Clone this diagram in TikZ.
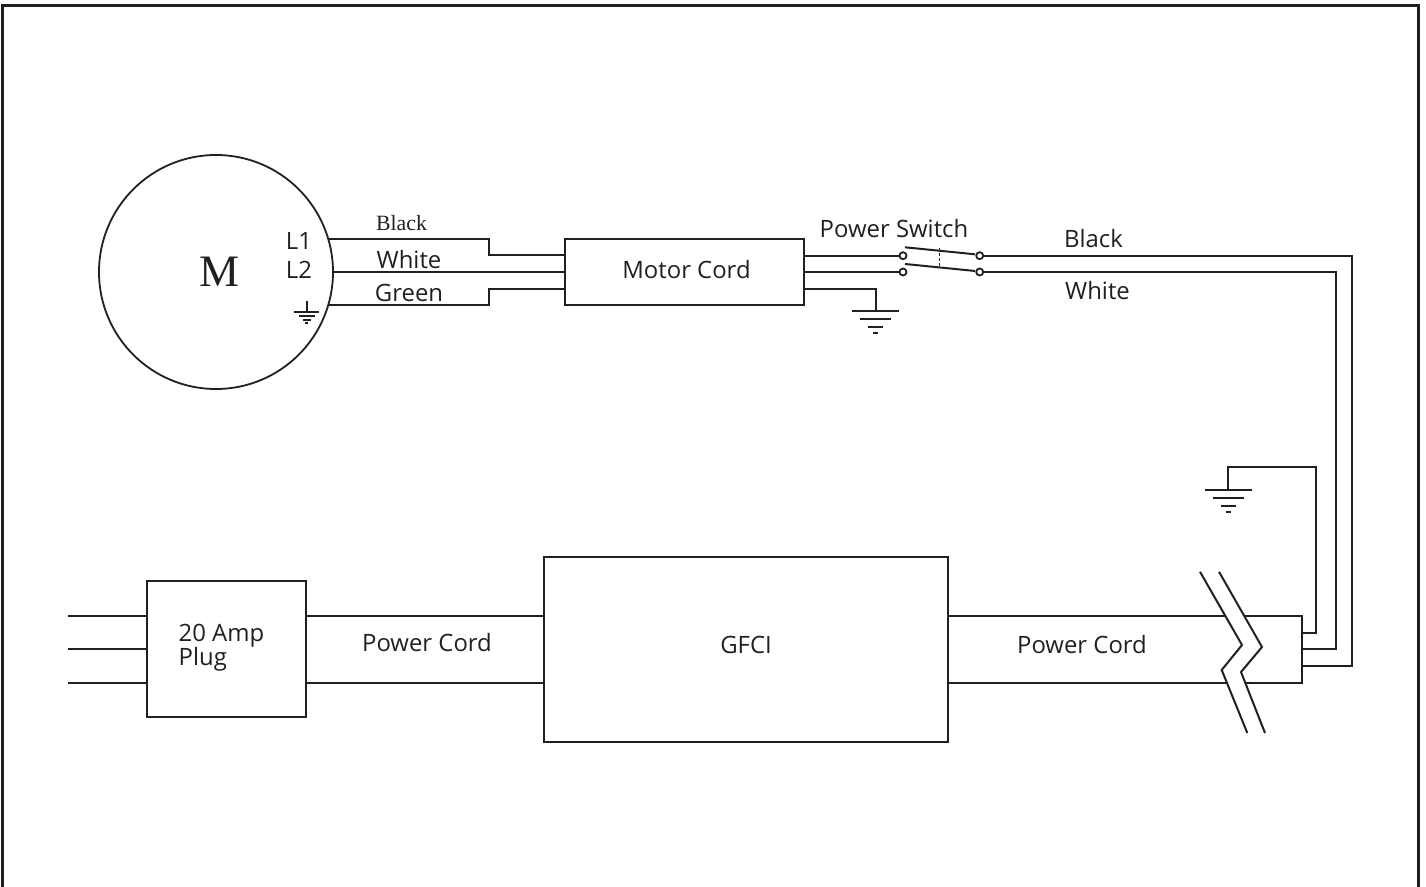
\documentclass[tikz,border=0pt]{standalone}
\usepackage{fontspec}
\setmainfont{Open Sans}
\newfontfamily\serifface{Liberation Serif}
\usetikzlibrary{calc}
\definecolor{ink}{HTML}{231F20}
\def\groundsym[#1](#2){\draw[wire,shift={(#2)},scale=#1] (-0.235,0) -- (0.235,0) (-0.155,-0.078) -- (0.155,-0.078) (-0.075,-0.158) -- (0.075,-0.158) (-0.025,-0.218) -- (0.025,-0.218);}
\tikzset{
	wire/.style={line width=0.02cm, color=ink},
	blockbox/.style={draw=ink, line width=0.02cm, rectangle, inner sep=0, outer sep=0},
	term/.style={draw=ink, line width=0.018cm, fill=white, circle, minimum size=0.07cm, inner sep=0, outer sep=0},
	lbl/.style={text=ink, font=\fontsize{6.8}{6.8}\selectfont, inner sep=0}
}

\begin{document}
\begin{tikzpicture}
	%%%%% START %%%%%
	\useasboundingbox (0, 0) rectangle (14.26, 8.86);
	
	\draw[line width=0.03cm, color=ink] (0.02, -0.5) -- (0.02, 8.805) -- (14.185, 8.805) -- (14.185, -0.5);
	
	%%%%% motor %%%%%
	\node[draw=ink, line width=0.018cm, circle, minimum size=2.34cm, inner sep=0, outer sep=0] (mot) at (2.16, 6.14) {};
	\node[text=ink, inner sep=0, font=\serifface\fontsize{12.8}{13}\selectfont] (mlbl) at (2.19, 6.14) {M};
	\node[lbl] (lone) at (2.99, 6.45) {L1};
	\node[lbl] (ltwo) at (2.99, 6.16) {L2};
	\coordinate (mgnd) at (3.067, 5.85);
	\draw[wire] (mgnd) -- ++(0, -0.11);
	\groundsym[0.52](3.067, 5.74);
	
	%%%%% motor cord %%%%%
	\node[blockbox, minimum width=2.385cm, minimum height=0.662cm] (mcord) at (6.8425, 6.14) {};
	\node[lbl] (mclbl) at (6.865, 6.16) {Motor Cord};
	\coordinate (lta) at (3.28, 6.471);
	\coordinate (ltc) at (3.28, 5.809);
	\coordinate (mca) at (5.65, 6.307);
	\coordinate (mcb) at (5.65, 5.973);
	\draw[wire] (lta) -- (4.89, 6.471) |- (mca);
	\draw[wire] (mot.0) -- (mcord.west);
	\draw[wire] (ltc) -- (4.89, 5.809) |- (mcb);
	\node[text=ink, inner sep=0, font=\serifface\fontsize{6.2}{7}\selectfont] (blkl) at (4.015, 6.63) {Black};
	\node[lbl] (whtl) at (4.09, 6.26) {White};
	\node[lbl] (grnl) at (4.09, 5.93) {Green};
	
	%%%%% switch %%%%%
	\node[term] (swa) at (9.03, 6.303) {};
	\node[term] (swb) at (9.03, 6.14) {};
	\node[term] (swc) at (9.797, 6.303) {};
	\node[term] (swd) at (9.797, 6.14) {};
	\draw[wire] (mcord.east |- swa) -- (swa);
	\draw[wire] (mcord.east |- swb) -- (swb);
	\coordinate (mgout) at (8.035, 5.97);
	\coordinate (gndm) at (8.757, 5.75);
	\draw[wire] (mgout) -| (gndm);
	\groundsym[1](8.757, 5.75);
	\draw[wire] (9.05, 6.387) -- (9.75, 6.317);
	\draw[wire] (9.05, 6.22) -- (9.75, 6.15);
	\draw[line width=0.014cm, color=ink, dash pattern=on 0.03cm off 0.02cm] (9.397, 6.375) -- (9.397, 6.19);
	\node[lbl] (swlbl) at (8.94, 6.57) {Power Switch};
	\node[lbl] (blkr) at (10.935, 6.47) {Black};
	\node[lbl] (whtr) at (10.975, 5.95) {White};
	
	%%%%% plug and gfci %%%%%
	\node[blockbox, minimum width=1.587cm, minimum height=1.363cm] (plug) at (2.266, 2.37) {};
	\node[lbl, anchor=west, align=left] (plbl) at (1.78, 2.385) {20 Amp\\Plug};
	\node[blockbox, minimum width=4.046cm, minimum height=1.847cm] (gfci) at (7.46, 2.365) {};
	\node[lbl] (glbl) at (7.46, 2.41) {GFCI};
	\coordinate (pa) at (0.677, 2.70);
	\coordinate (pb) at (0.677, 2.37);
	\coordinate (pc) at (0.677, 2.03);
	\draw[wire] (pa) -- (plug.west |- pa);
	\draw[wire] (pb) -- (plug.west |- pb);
	\draw[wire] (pc) -- (plug.west |- pc);
	\draw[wire] (plug.east |- pa) -- (gfci.west |- pa);
	\draw[wire] (plug.east |- pc) -- (gfci.west |- pc);
	\node[lbl] (pcl) at (4.27, 2.43) {Power Cord};
	\node[lbl] (pcr) at (10.82, 2.41) {Power Cord};
	
	%%%%% cord with break %%%%%
	\coordinate (cta) at (13.02, 2.70);
	\coordinate (ctb) at (13.02, 2.03);
	\draw[wire] (gfci.east |- cta) -- (cta) -- (ctb) -- (gfci.east |- ctb);
	\fill[white] (12.0, 3.142) -- (12.42, 2.41) -- (12.217, 2.16) -- (12.473, 1.53) -- (12.65, 1.53) -- (12.41, 2.14) -- (12.62, 2.39) -- (12.19, 3.142) -- cycle;
	\draw[wire] (12.0, 3.142) -- (12.42, 2.41) -- (12.217, 2.16) -- (12.473, 1.53);
	\draw[wire] (12.19, 3.142) -- (12.62, 2.39) -- (12.41, 2.14) -- (12.65, 1.53);
	
	%%%%% wires on the right %%%%%
	\coordinate (cua) at (13.02, 2.2);
	\coordinate (cub) at (13.02, 2.37);
	\coordinate (cuc) at (13.02, 2.533);
	\draw[wire] (swc) -- (13.52, 6.303) |- (cua);
	\draw[wire] (swd) -- (13.357, 6.14) |- (cub);
	\coordinate (gndr) at (12.283, 3.96);
	\draw[wire] (cuc) -| (13.16, 4.187) -| (gndr);
	\groundsym[1](12.283, 3.96);
	
	%%%%% END %%%%%
\end{tikzpicture}
\end{document}
